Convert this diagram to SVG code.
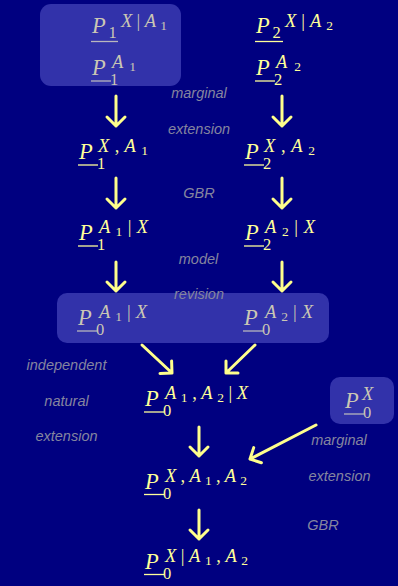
<svg xmlns="http://www.w3.org/2000/svg" width="398" height="586" viewBox="0 0 398 586">
<style>
.m{font-family:"Liberation Serif","DejaVu Serif",serif;fill:#ffff99}
.in .m{fill:#cbc7b4}
.P{font-size:22.5px;font-style:italic}
.s{font-size:16.5px}
.u{font-size:18.5px}
.i{font-style:italic}
.d{font-size:13.5px}
.ul{stroke:#ffff99;stroke-width:1.3}
.in .ul{stroke:#b9b7bd}
.box{fill:#3232aa}
.lbl{font-family:"Liberation Sans",Arial,sans-serif;font-style:italic;font-size:14.5px;fill:#85859f;text-anchor:middle}
.arr{stroke:#ffff8c;stroke-width:3;fill:none;stroke-linecap:round;stroke-linejoin:round}
</style>
<rect width="398" height="586" fill="#000080"/>

<g id="box-1" class="in">
<rect class="box" x="40" y="4" width="141" height="82" rx="11"/>
<g id="n-P1-X-given-A1">
<text class="m P" x="92" y="33">P</text>
<text class="m s" x="108.5" y="38">1</text>
<line class="ul" x1="91" y1="41.5" x2="118" y2="41.5"/>
<text class="m u" x="121" y="27" textLength="46" lengthAdjust="spacing"><tspan class="i">X</tspan>|<tspan class="i">A</tspan><tspan class="d" dy="3">1</tspan></text>
</g>
<g id="n-P1-A1">
<text class="m P" x="92" y="75">P</text>
<text class="m s" x="110" y="85">1</text>
<line class="ul" x1="91" y1="81" x2="111" y2="81"/>
<text class="m u" x="112" y="68" textLength="24" lengthAdjust="spacing"><tspan class="i">A</tspan><tspan class="d" dy="3">1</tspan></text>
</g>
</g>

<g id="n-P2-X-given-A2">
<text class="m P" x="256" y="33">P</text>
<text class="m s" x="272.5" y="38">2</text>
<line class="ul" x1="255" y1="41.5" x2="283" y2="41.5"/>
<text class="m u" x="285" y="27" textLength="48" lengthAdjust="spacing"><tspan class="i">X</tspan>|<tspan class="i">A</tspan><tspan class="d" dy="3">2</tspan></text>
</g>
<g id="n-P2-A2">
<text class="m P" x="256" y="75">P</text>
<text class="m s" x="274" y="85">2</text>
<line class="ul" x1="255" y1="81" x2="275" y2="81"/>
<text class="m u" x="276" y="68" textLength="25" lengthAdjust="spacing"><tspan class="i">A</tspan><tspan class="d" dy="3">2</tspan></text>
</g>

<g id="n-P1-X-A1">
<text class="m P" x="79" y="159">P</text>
<text class="m s" x="97" y="169">1</text>
<line class="ul" x1="78" y1="165" x2="98" y2="165"/>
<text class="m u" x="98" y="152" textLength="50" lengthAdjust="spacing"><tspan class="i">X</tspan>,<tspan class="i">A</tspan><tspan class="d" dy="3">1</tspan></text>
</g>
<g id="n-P2-X-A2">
<text class="m P" x="245" y="159">P</text>
<text class="m s" x="263" y="169">2</text>
<line class="ul" x1="244" y1="165" x2="264" y2="165"/>
<text class="m u" x="264" y="152" textLength="51" lengthAdjust="spacing"><tspan class="i">X</tspan>,<tspan class="i">A</tspan><tspan class="d" dy="3">2</tspan></text>
</g>

<g id="n-P1-A1-given-X">
<text class="m P" x="79" y="240">P</text>
<text class="m s" x="97" y="250">1</text>
<line class="ul" x1="78" y1="246" x2="98" y2="246"/>
<text class="m u" x="99" y="233" textLength="49" lengthAdjust="spacing"><tspan class="i">A</tspan><tspan class="d" dy="3">1</tspan><tspan dy="-3">|</tspan><tspan class="i">X</tspan></text>
</g>
<g id="n-P2-A2-given-X">
<text class="m P" x="245" y="240">P</text>
<text class="m s" x="263" y="250">2</text>
<line class="ul" x1="244" y1="246" x2="264" y2="246"/>
<text class="m u" x="265" y="233" textLength="50" lengthAdjust="spacing"><tspan class="i">A</tspan><tspan class="d" dy="3">2</tspan><tspan dy="-3">|</tspan><tspan class="i">X</tspan></text>
</g>

<g id="box-2" class="in">
<rect class="box" x="57" y="293" width="272" height="50" rx="10"/>
<g id="n-P0-A1-given-X">
<text class="m P" x="78" y="325">P</text>
<text class="m s" x="96" y="335">0</text>
<line class="ul" x1="77" y1="331" x2="97" y2="331"/>
<text class="m u" x="99" y="318" textLength="48" lengthAdjust="spacing"><tspan class="i">A</tspan><tspan class="d" dy="3">1</tspan><tspan dy="-3">|</tspan><tspan class="i">X</tspan></text>
</g>
<g id="n-P0-A2-given-X">
<text class="m P" x="244" y="325">P</text>
<text class="m s" x="262" y="335">0</text>
<line class="ul" x1="243" y1="331" x2="263" y2="331"/>
<text class="m u" x="265" y="318" textLength="48" lengthAdjust="spacing"><tspan class="i">A</tspan><tspan class="d" dy="3">2</tspan><tspan dy="-3">|</tspan><tspan class="i">X</tspan></text>
</g>
</g>

<g id="n-P0-A1-A2-given-X">
<text class="m P" x="145" y="406">P</text>
<text class="m s" x="163" y="416">0</text>
<line class="ul" x1="144" y1="412" x2="164" y2="412"/>
<text class="m u" x="165" y="399" textLength="83" lengthAdjust="spacing"><tspan class="i">A</tspan><tspan class="d" dy="3">1</tspan><tspan dy="-3">,</tspan><tspan class="i">A</tspan><tspan class="d" dy="3">2</tspan><tspan dy="-3">|</tspan><tspan class="i">X</tspan></text>
</g>

<g id="box-3" class="in">
<rect class="box" x="330" y="377" width="64" height="47" rx="10"/>
<g id="n-P0-X">
<text class="m P" x="345" y="408">P</text>
<text class="m s" x="363" y="418">0</text>
<line class="ul" x1="344" y1="414" x2="364" y2="414"/>
<text class="m u i" x="362" y="400">X</text>
</g>
</g>

<g id="n-P0-X-A1-A2">
<text class="m P" x="145" y="488.5">P</text>
<text class="m s" x="163" y="498.5">0</text>
<line class="ul" x1="144" y1="494.5" x2="164" y2="494.5"/>
<text class="m u" x="165" y="481.5" textLength="82" lengthAdjust="spacing"><tspan class="i">X</tspan>,<tspan class="i">A</tspan><tspan class="d" dy="3">1</tspan><tspan dy="-3">,</tspan><tspan class="i">A</tspan><tspan class="d" dy="3">2</tspan></text>
</g>

<g id="n-P0-X-given-A1-A2">
<text class="m P" x="145" y="568.5">P</text>
<text class="m s" x="163" y="578.5">0</text>
<line class="ul" x1="144" y1="574.5" x2="164" y2="574.5"/>
<text class="m u" x="165" y="561.5" textLength="83" lengthAdjust="spacing"><tspan class="i">X</tspan>|<tspan class="i">A</tspan><tspan class="d" dy="3">1</tspan><tspan dy="-3">,</tspan><tspan class="i">A</tspan><tspan class="d" dy="3">2</tspan></text>
</g>

<g id="connectors" class="arr">
<path d="M116 96V126M107 117L116 126L125 117"/>
<path d="M282 96V126M273 117L282 126L291 117"/>
<path d="M116 178V208M107 199L116 208L125 199"/>
<path d="M282 178V208M273 199L282 208L291 199"/>
<path d="M116 262V291M107 282L116 291L125 282"/>
<path d="M282 262V291M273 282L282 291L291 282"/>
<path d="M142 345L172 373M171.6 361L172 373L160 373.4"/>
<path d="M255 345L226 373M226 361L226 373L238 373"/>
<path d="M199 427V456M190 447L199 456L208 447"/>
<path d="M316 425L250 459M261.4 462.7L250 459L253.7 447.6"/>
<path d="M199 510V539M190 530L199 539L208 530"/>
</g>

<g id="labels">
<text class="lbl" x="199" y="98">marginal</text>
<text class="lbl" x="199" y="134">extension</text>
<text class="lbl" x="199" y="198">GBR</text>
<text class="lbl" x="198.5" y="264">model</text>
<text class="lbl" x="199" y="299">revision</text>
<text class="lbl" x="66.5" y="370">independent</text>
<text class="lbl" x="66.5" y="406">natural</text>
<text class="lbl" x="66.5" y="441">extension</text>
<text class="lbl" x="339" y="445">marginal</text>
<text class="lbl" x="339.5" y="481">extension</text>
<text class="lbl" x="323" y="530">GBR</text>
</g>
</svg>
